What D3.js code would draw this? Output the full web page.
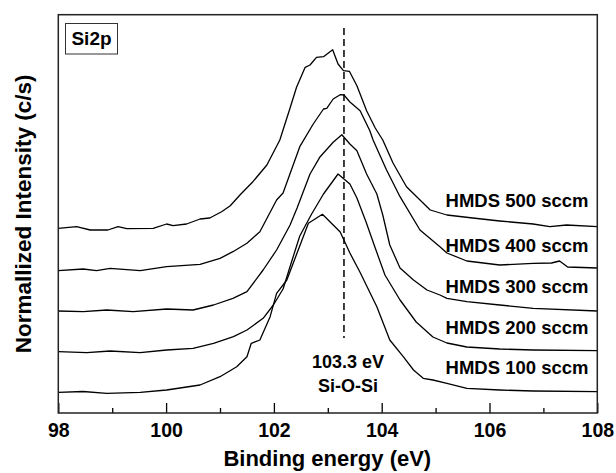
<!DOCTYPE html>
<html>
<head>
<meta charset="utf-8">
<script src="https://cdn.jsdelivr.net/npm/d3@7"></script>
<style>
  body { margin: 0; background: #fff; }
  svg text { font-family: "Liberation Sans", Arial, sans-serif; font-weight: bold; fill: #000; }
</style>
</head>
<body>
<div class="wrapper"></div>
<script>
// binding energy (eV), stacked normalized intensity (a.u.)
var hmds500 = [[98.00,184.7],[98.34,186.3],[98.59,183],[98.92,183],[99.11,186.3],[99.27,184.3],[99.76,184.7],
  [100.01,189],[100.13,187.3],[100.38,189],[100.63,194],[100.81,195],[101.03,201.3],[101.19,207.3],[101.37,218],
  [101.61,231.3],[101.87,248],[102.11,273],[102.30,305],[102.42,325.7],[102.58,345.7],[102.67,348],[102.79,355.7],
  [102.92,356.3],[103.09,363.3],[103.19,349],[103.29,342.3],[103.40,341.7],[103.54,327.3],[103.72,302.3],
  [103.88,285],[104.02,273],[104.21,250],[104.46,226.3],[104.90,203],[105.21,198],[105.69,195],[106.19,192],
  [106.81,189],[107.12,186.3],[107.43,188],[108.00,186.3]];

var hmds400 = [[98.00,142.3],[98.46,144],[98.71,142.3],[98.96,144.7],[99.52,142.3],[100.01,146.3],[100.63,148.7],
  [101.00,154.7],[101.24,161.3],[101.50,169.7],[101.74,181.3],[102.05,213],[102.17,220],[102.48,266.3],
  [102.73,289],[102.92,304],[102.98,304.7],[103.10,314],[103.23,318.3],[103.30,318],[103.41,311],[103.60,302.3],
  [103.78,282.3],[103.84,273],[104.09,243],[104.34,216.3],[104.71,183],[105.08,166.3],[105.21,160],[105.58,152],
  [106.19,148],[106.81,149.7],[107.15,150],[107.30,152],[107.45,146],[108.00,145]];

var hmds300 = [[98.00,102],[98.46,101.3],[98.90,103],[99.39,101.3],[100.01,104],[100.50,103],[100.88,108],
  [101.24,114.7],[101.50,121.3],[101.80,143],[102.05,163],[102.30,188],[102.43,205],[102.67,239],[102.85,255.7],
  [103.10,270.7],[103.26,278.3],[103.41,269],[103.54,262.3],[103.72,239],[103.91,219],[104.02,198],[104.15,168],
  [104.34,145],[104.59,133],[104.84,123],[105.08,118],[105.21,114.7],[105.58,111.3],[106.19,108],[106.81,104.7],
  [108.00,102]];

var hmds200 = [[98.00,61.3],[98.53,60.3],[98.96,62],[99.52,60.3],[100.01,63],[100.50,64.7],[100.88,69.7],
  [101.25,76.3],[101.50,83],[101.80,94.7],[101.99,108],[102.17,124],[102.35,155],[102.48,177],[102.70,199],
  [102.92,219],[103.19,239],[103.41,229],[103.54,215],[103.71,191],[103.88,165],[104.06,138],[104.34,113],
  [104.64,91],[104.95,76],[105.21,70],[105.58,66],[106.19,64],[106.81,63],[108.00,62.3]];

var hmds100 = [[98.00,20.7],[98.46,21.5],[98.90,19.7],[99.52,20.7],[100.01,23],[100.63,28],[101.00,36.3],
  [101.31,46.3],[101.50,56.3],[101.58,69.7],[101.74,73],[101.93,96.3],[102.05,119.7],[102.24,133],[102.43,160],
  [102.64,189.7],[102.90,198.7],[103.23,181],[103.32,170.5],[103.41,160],[103.60,140.5],[103.91,106.3],
  [104.15,73],[104.40,56.3],[104.59,43],[104.77,34.7],[104.95,33],[105.21,29.7],[105.58,24.7],[106.19,23],
  [106.81,22],[108.00,21.3]];

var series = [hmds100, hmds200, hmds300, hmds400, hmds500];
var seriesLabels = ["HMDS 100 sccm", "HMDS 200 sccm", "HMDS 300 sccm", "HMDS 400 sccm", "HMDS 500 sccm"];
var labelLevels = [39, 79.5, 120, 161, 206.5];   // where each label sits on the intensity scale
var majorTicks = [98, 100, 102, 104, 106, 108];
var minorTicks = [99, 101, 103, 105, 107];
var peakEnergy = 103.3;
var peakSpan = [75, 385];

var width = 616, height = 473;
var margin = {top: 14.7, right: 18.7, bottom: 60, left: 58.3};

var x = d3.scaleLinear().domain([98, 108]).range([margin.left, width - margin.right]);
var y = d3.scaleLinear().domain([0, 398.3]).range([height - margin.bottom, margin.top]);

var svg = d3.select(".wrapper").append("svg")
    .attr("width", width)
    .attr("height", height);

// spectra
var line = d3.line()
    .x(function(d) { return x(d[0]); })
    .y(function(d) { return y(d[1]); });

svg.append("g").selectAll("path")
    .data(series)
    .enter().append("path")
    .attr("d", line)
    .attr("fill", "none")
    .attr("stroke", "#000")
    .attr("stroke-width", 1.3)
    .attr("stroke-linejoin", "round");

// Si-O-Si reference line
svg.append("line")
    .attr("x1", x(peakEnergy)).attr("x2", x(peakEnergy))
    .attr("y1", y(peakSpan[1])).attr("y2", y(peakSpan[0]))
    .attr("stroke", "#000")
    .attr("stroke-width", 1.5)
    .attr("stroke-dasharray", "7,4");

svg.append("text")
    .attr("x", x(peakEnergy) + 4).attr("y", 368)
    .attr("text-anchor", "middle")
    .style("font-size", "18px")
    .text("103.3 eV");
svg.append("text")
    .attr("x", x(peakEnergy) + 4).attr("y", 392)
    .attr("text-anchor", "middle")
    .style("font-size", "18px")
    .text("Si-O-Si");

// series labels
svg.append("g").selectAll("text")
    .data(seriesLabels)
    .enter().append("text")
    .attr("x", 588.5)
    .attr("y", function(d, i) { return y(labelLevels[i]); })
    .attr("text-anchor", "end")
    .style("font-size", "18.5px")
    .text(function(d) { return d; });

// axes, ticks inside
var xAxis = svg.append("g")
    .attr("transform", "translate(0," + (height - margin.bottom) + ")")
    .call(d3.axisBottom(x).tickValues(majorTicks).tickSize(-10).tickFormat(d3.format("d")));
xAxis.select(".domain").remove();
xAxis.selectAll(".tick line").attr("stroke", "#000").attr("stroke-width", 1.3);
xAxis.selectAll(".tick text")
    .attr("dy", null)
    .attr("y", 23.5)
    .style("font-size", "19.5px")
    .style("font-family", "'Liberation Sans', Arial, sans-serif")
    .style("font-weight", "bold")
    .attr("fill", "#000");

var xMinor = svg.append("g")
    .attr("transform", "translate(0," + (height - margin.bottom) + ")")
    .call(d3.axisBottom(x).tickValues(minorTicks).tickSize(-5).tickFormat(""));
xMinor.select(".domain").remove();
xMinor.selectAll(".tick line").attr("stroke", "#000").attr("stroke-width", 1.3);

// frame
svg.append("rect")
    .attr("x", margin.left).attr("y", margin.top)
    .attr("width", width - margin.left - margin.right)
    .attr("height", height - margin.top - margin.bottom)
    .attr("fill", "none")
    .attr("stroke", "#222")
    .attr("stroke-width", 1.5);

// Si2p tag
svg.append("rect")
    .attr("x", 65.5).attr("y", 23.5)
    .attr("width", 52).attr("height", 30.5)
    .attr("fill", "#fff")
    .attr("stroke", "#333")
    .attr("stroke-width", 1);
svg.append("text")
    .attr("x", 91.5).attr("y", 45)
    .attr("text-anchor", "middle")
    .style("font-size", "19px")
    .text("Si2p");

// axis titles
svg.append("text")
    .attr("x", (margin.left + width - margin.right) / 2 - 0.5)
    .attr("y", 466)
    .attr("text-anchor", "middle")
    .style("font-size", "22px")
    .text("Binding energy (eV)");

svg.append("text")
    .attr("transform", "translate(31," + ((margin.top + height - margin.bottom) / 2) + ") rotate(-90)")
    .attr("text-anchor", "middle")
    .style("font-size", "22.5px")
    .text("Normallized Intensity (c/s)");
</script>
</body>
</html>
